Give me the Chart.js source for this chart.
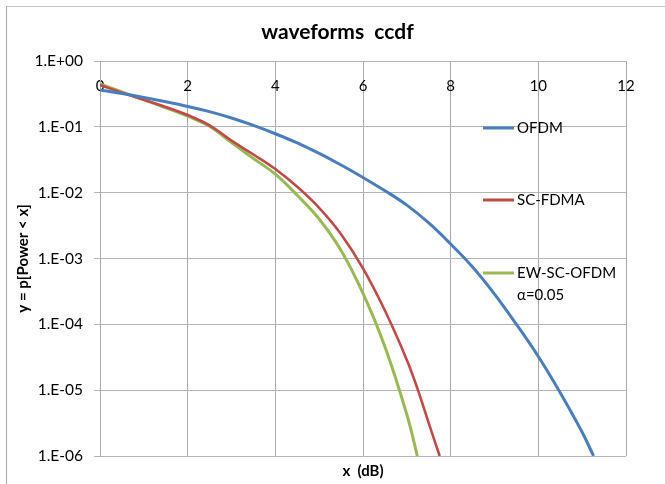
<!DOCTYPE html>
<html><head><meta charset="utf-8">
<script src="https://cdn.jsdelivr.net/npm/chart.js@4.4.0/dist/chart.umd.min.js"></script>
<style>
html,body{margin:0;padding:0;background:#fff;}
#wrap{position:relative;width:665px;height:484px;overflow:hidden;background:#fff;}
#frame{position:absolute;left:6px;top:6px;width:700px;height:500px;border-left:1px solid #a6a6a6;border-top:1px solid #c4c4c4;}
canvas{position:absolute;left:0;top:0;}
</style></head><body>
<div id="wrap"><div id="frame"></div><canvas id="c" width="665" height="484"></canvas></div>
<script>
const chartTitle = 'waveforms  ccdf';
const xTitle = 'x  (dB)';
const yTitle = 'y = p[Power < x]';
const seriesNames = ['OFDM', 'SC-FDMA', 'EW-SC-OFDM'];
const seriesNotes = ['', '', 'α=0.05'];
const seriesColors = ['#4a7ebb', '#be4b48', '#98b954'];

const ofdmX = [0, 0.5, 1, 1.5, 2, 2.5, 3, 3.5, 4, 4.5, 5, 5.5, 6, 6.5, 7, 7.5, 8, 8.5, 9, 9.5, 10, 10.5, 11, 11.26];
const ofdmY = [0.363, 0.320, 0.279, 0.240, 0.204, 0.170, 0.136, 0.105, 0.0785, 0.0569, 0.0394, 0.0263, 0.0170, 0.0107, 0.00646, 0.00347, 0.00166, 0.000741, 0.000288, 0.000100, 0.0000324, 0.00000912, 0.00000229, 0.000001];

const scfdmaX = [0, 0.5, 1, 1.5, 2, 2.5, 3, 3.5, 4, 4.5, 5, 5.5, 6, 6.5, 7, 7.25, 7.5, 7.75];
const scfdmaY = [0.431, 0.331, 0.257, 0.200, 0.151, 0.105, 0.0617, 0.0380, 0.0229, 0.0123, 0.00589, 0.00234, 0.000708, 0.000162, 0.0000288, 0.0000102, 0.00000316, 0.000001];

const ewX = [0, 0.5, 1, 1.5, 2, 2.5, 3, 3.5, 4, 4.5, 5, 5.5, 6, 6.5, 7, 7.24];
const ewY = [0.447, 0.339, 0.257, 0.195, 0.145, 0.102, 0.0575, 0.0331, 0.0191, 0.00912, 0.00398, 0.00132, 0.000295, 0.0000457, 0.00000427, 0.000001];

const xTicks = [0, 2, 4, 6, 8, 10, 12];
const yTicks = [0.000001, 0.00001, 0.0001, 0.001, 0.01, 0.1, 1];
const yTickLabels = ['1.E-06', '1.E-05', '1.E-04', '1.E-03', '1.E-02', '1.E-01', '1.E+00'];

const FONT = 'Lato';
const pts = (xs, ys) => xs.map((x, i) => ({x: x, y: ys[i]}));
const seriesData = [pts(ofdmX, ofdmY), pts(scfdmaX, scfdmaY), pts(ewX, ewY)];
const widths = [3, 2.6, 3];

const legendPlugin = {
  id: 'sideLegend',
  afterDatasetsDraw(chart) {
    const {ctx, chartArea: a} = chart;
    const rowOffsets = [67, 139, 212];
    ctx.save();
    ctx.font = '15px ' + FONT;
    ctx.textBaseline = 'middle';
    ctx.textAlign = 'left';
    seriesNames.forEach((name, i) => {
      const y = a.top + rowOffsets[i];
      ctx.strokeStyle = seriesColors[i];
      ctx.lineWidth = 3;
      ctx.beginPath();
      ctx.moveTo(a.left + 383, y);
      ctx.lineTo(a.left + 414, y);
      ctx.stroke();
      ctx.fillStyle = '#000';
      ctx.fillText(name, a.left + 417, y);
      if (seriesNotes[i]) ctx.fillText(seriesNotes[i], a.left + 417, y + 22);
    });
    ctx.restore();
  }
};

new Chart(document.getElementById('c').getContext('2d'), {
  type: 'line',
  data: {
    datasets: seriesNames.map((n, i) => ({
      label: n,
      data: seriesData[i],
      borderColor: seriesColors[i],
      backgroundColor: seriesColors[i],
      borderWidth: widths[i],
      pointRadius: 0,
      tension: 0.4,
      fill: false
    }))
  },
  options: {
    responsive: false,
    animation: false,
    devicePixelRatio: 1,
    layout: {padding: {left: 10, right: 0, top: 0, bottom: 0}},
    plugins: {
      legend: {display: false},
      tooltip: {enabled: false},
      title: {display: true, text: chartTitle, color: '#000',
        font: {family: FONT, size: 21, weight: 'bold'}, padding: {top: 19.5, bottom: 16.3}},
      subtitle: {display: true, text: xTitle, position: 'bottom', fullSize: false, color: '#000',
        font: {family: FONT, size: 15, weight: 'bold'}, padding: {top: 6, bottom: 4}}
    },
    scales: {
      x: {
        type: 'linear', position: 'top', min: 0, max: 12,
        afterBuildTicks(s) { s.ticks = xTicks.map(v => ({value: v})); },
        afterFit(s) { s.height = 0; },
        grid: {color: '#a9a9a9', drawTicks: false},
        border: {color: '#b4b4b4'},
        ticks: {mirror: true, padding: 16, maxRotation: 0, autoSkip: false, color: '#000', font: {family: FONT, size: 15}}
      },
      y: {
        type: 'logarithmic', min: 0.000001, max: 1,
        afterBuildTicks(s) { s.ticks = yTicks.map(v => ({value: v})); },
        afterFit(s) { s.width = 90; },
        grid: {color: '#b4b4b4', tickLength: 6},
        border: {color: '#a9a9a9'},
        ticks: {padding: 11, color: '#000', font: {family: FONT, size: 15.5},
          callback: (v) => yTickLabels[yTicks.indexOf(v)]},
        title: {display: true, text: yTitle, color: '#000',
          font: {family: FONT, size: 15, weight: 'bold'}, padding: {top: 4, bottom: 0}}
      },
      yRightSpace: {
        type: 'linear', position: 'right', display: true,
        afterFit(s) { s.width = 39; },
        grid: {display: false}, border: {display: false}, ticks: {display: false}
      }
    }
  },
  plugins: [legendPlugin]
});
</script>
</body></html>
